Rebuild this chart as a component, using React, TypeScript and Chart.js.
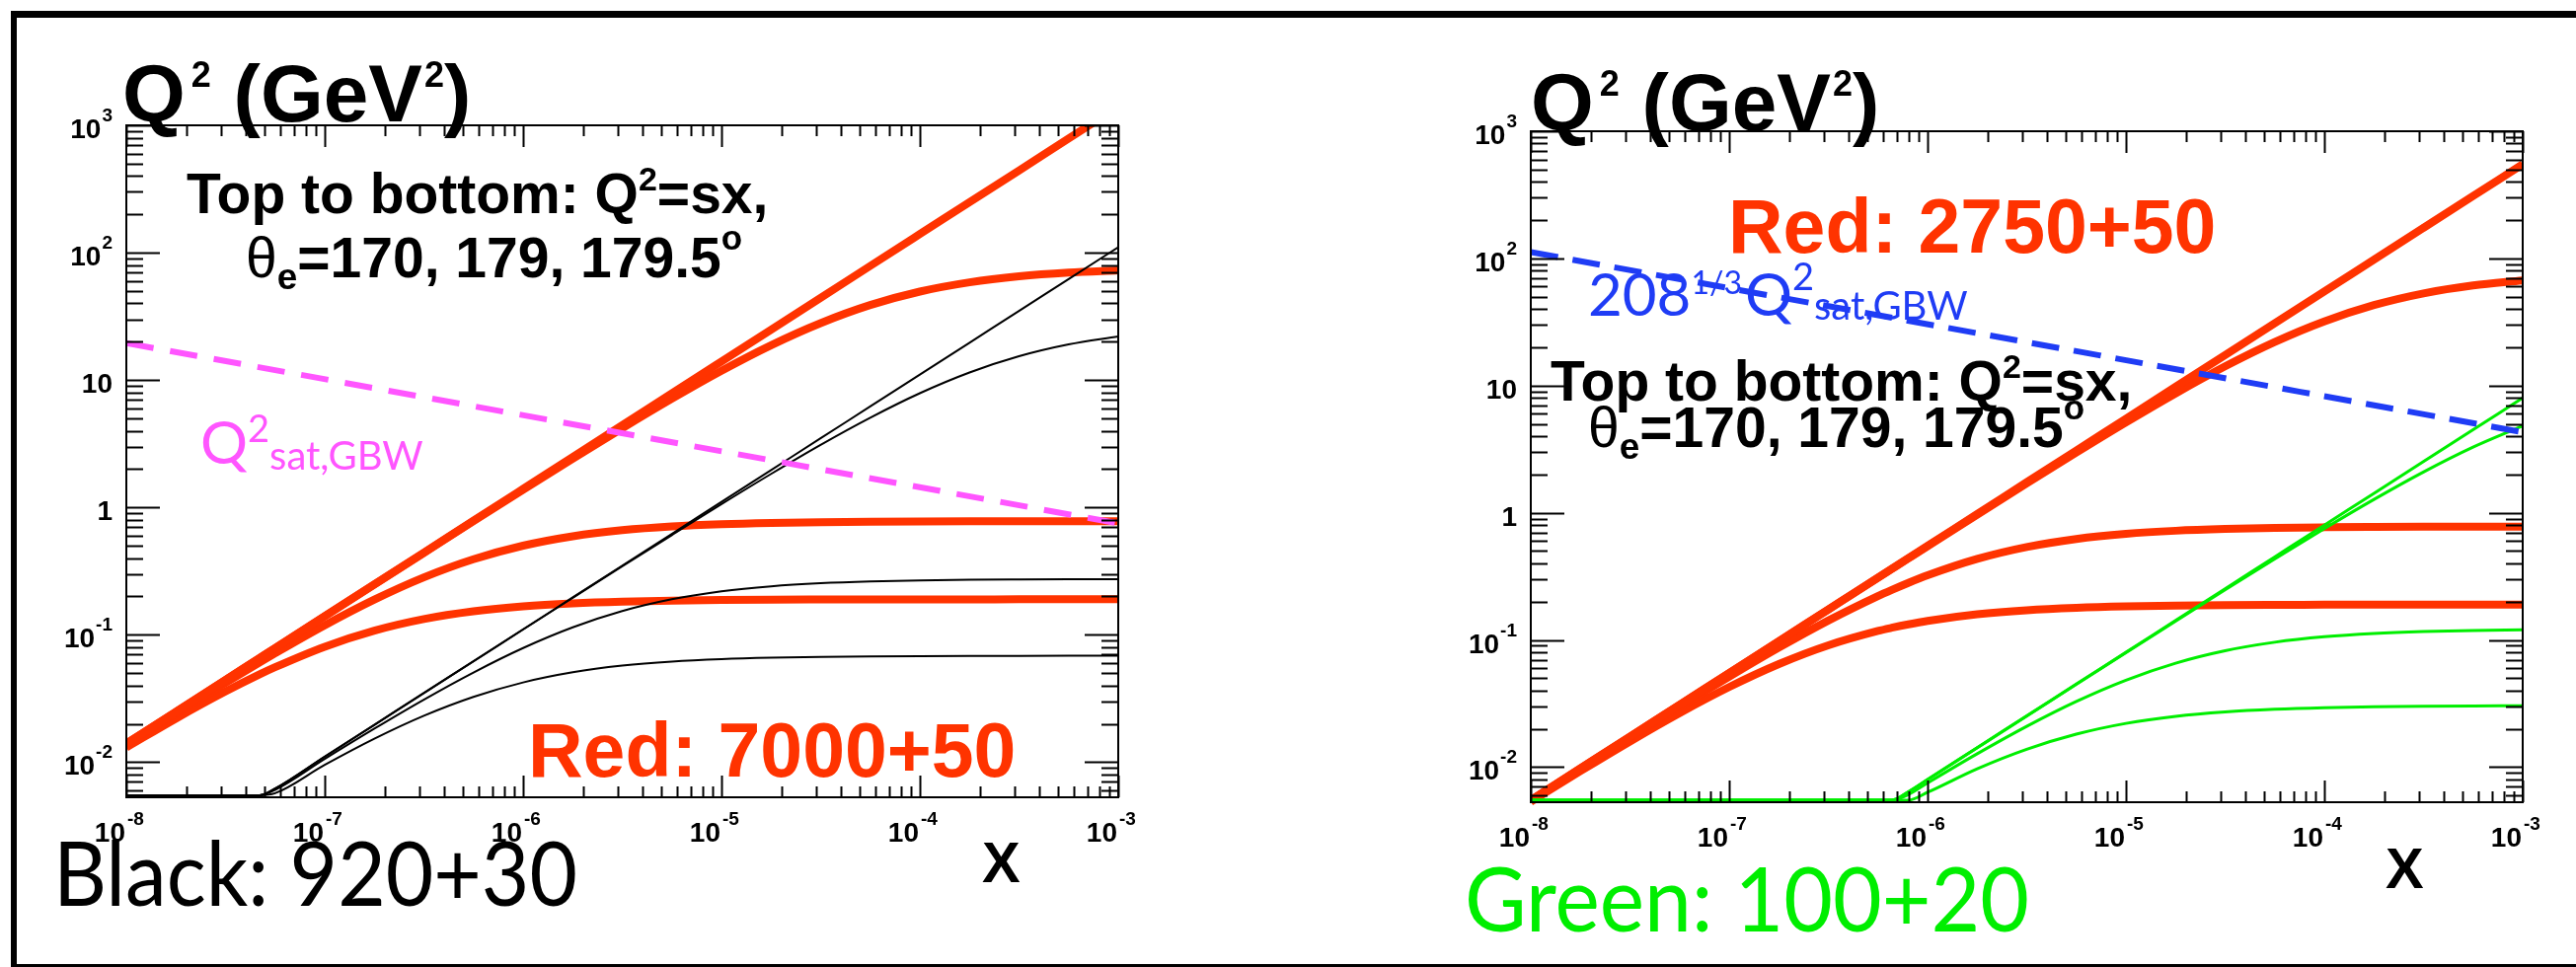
import React, { useEffect, useRef } from 'react';
import { Chart, registerables } from 'chart.js';
Chart.register(...registerables);

// ---------- axis ranges & tick labels ----------
const X_MIN = 1e-8;
const X_MAX = 1e-3;
const Y_MIN = 0.0053;
const Y_MAX = 1000;
const X_TICK_EXPONENTS = ['-8', '-7', '-6', '-5', '-4', '-3'];
const Y_TICK_VALUES = [0.01, 0.1, 1, 10, 100, 1000];
const Y_TICK_BASES = ['10', '10', '1', '10', '10', '10'];
const Y_TICK_EXPS = ['-2', '-1', '', '', '2', '3'];

// ---------- left panel data (Red: 7000+50, Black: 920+30) ----------
const X_LEFT = [1e-8, 1.78e-8, 3.16e-8, 4.7e-8, 5.62e-8, 1e-7, 1.78e-7, 3.16e-7, 5.62e-7, 1e-6, 1.78e-6, 3.16e-6, 5.62e-6, 1e-5, 1.78e-5, 3.16e-5, 5.62e-5, 1e-4, 1.78e-4, 3.16e-4, 5.62e-4, 1e-3];
const RED7000_SX = [0.014, 0.0249, 0.0442, 0.0658, 0.0787, 0.14, 0.249, 0.442, 0.787, 1.4, 2.49, 4.42, 7.87, 14, 24.9, 44.2, 78.7, 140, 249, 442, 787, 1400];
const RED7000_170 = [0.014, 0.0249, 0.0442, 0.0657, 0.0786, 0.1397, 0.248, 0.4395, 0.779, 1.375, 2.411, 4.18, 7.13, 11.83, 18.79, 28.0, 38.8, 49.5, 58.5, 65.2, 69.7, 72.5];
const RED7000_179 = [0.01375, 0.02413, 0.04183, 0.0607, 0.07147, 0.1187, 0.1888, 0.2822, 0.3917, 0.501, 0.594, 0.663, 0.7097, 0.739, 0.7564, 0.7665, 0.7724, 0.7757, 0.7776, 0.7787, 0.7792, 0.7796];
const RED7000_1795 = [0.01304, 0.02202, 0.03586, 0.0489, 0.05564, 0.0806, 0.1078, 0.1329, 0.153, 0.1673, 0.1765, 0.1822, 0.1855, 0.1875, 0.1886, 0.1892, 0.1895, 0.1897, 0.1898, 0.1899, 0.19, 0.19];
const BLACK_SX = [0.0055, 0.0055, 0.0055, 0.0055, 0.0062, 0.01104, 0.01965, 0.0349, 0.062, 0.1104, 0.1965, 0.349, 0.62, 1.104, 1.965, 3.49, 6.2, 11.04, 19.65, 34.9, 62.0, 110.4];
const BLACK_170 = [0.0055, 0.0055, 0.0055, 0.0055, 0.0062, 0.01104, 0.01964, 0.03486, 0.06186, 0.11, 0.1951, 0.3447, 0.6064, 1.061, 1.834, 3.097, 5.058, 7.878, 11.46, 15.38, 19.05, 22.02];
const BLACK_179 = [0.0055, 0.0055, 0.0055, 0.0055, 0.00606, 0.01061, 0.01834, 0.03096, 0.05056, 0.07869, 0.1144, 0.1535, 0.19, 0.2195, 0.2404, 0.254, 0.2624, 0.2673, 0.2702, 0.2718, 0.2728, 0.2733];
const BLACK_1795 = [0.0055, 0.0055, 0.0055, 0.0055, 0.0057, 0.009508, 0.01527, 0.02312, 0.03254, 0.04227, 0.05079, 0.05726, 0.06168, 0.06449, 0.06619, 0.06718, 0.06774, 0.06807, 0.06826, 0.06836, 0.06842, 0.06845];
const GBW_X = [1e-8, 1e-3];
const GBW_Q2 = [19.5, 0.75];

// ---------- right panel data (Red: 2750+50, Green: 100+20) ----------
const X_RIGHT = [1e-8, 1.78e-8, 3.16e-8, 5.62e-8, 1e-7, 1.78e-7, 3.16e-7, 5.62e-7, 6.6e-7, 8e-7, 1e-6, 1.78e-6, 3.16e-6, 5.62e-6, 1e-5, 1.78e-5, 3.16e-5, 5.62e-5, 1e-4, 1.78e-4, 3.16e-4, 5.62e-4, 1e-3];
const RED2750_SX = [0.0055, 0.00979, 0.01738, 0.03091, 0.055, 0.0979, 0.1738, 0.3091, 0.363, 0.44, 0.55, 0.979, 1.738, 3.091, 5.5, 9.79, 17.38, 30.91, 55, 97.9, 173.8, 309.1, 550];
const RED2750_170 = [0.0055, 0.00979, 0.01738, 0.0309, 0.05496, 0.0978, 0.1734, 0.3079, 0.3613, 0.4375, 0.5461, 0.9667, 1.6995, 2.971, 5.131, 8.677, 14.16, 22.0, 31.97, 42.95, 53.12, 61.33, 67.17];
const RED2750_179 = [0.005462, 0.009668, 0.017, 0.02973, 0.05138, 0.08698, 0.1421, 0.2214, 0.2477, 0.2813, 0.3226, 0.4341, 0.5384, 0.6229, 0.6832, 0.7225, 0.7465, 0.7609, 0.7691, 0.774, 0.7767, 0.7781, 0.7789];
const RED2750_1795 = [0.005346, 0.00931, 0.01592, 0.02659, 0.04266, 0.06461, 0.09077, 0.1177, 0.1247, 0.1327, 0.1412, 0.1591, 0.1713, 0.179, 0.1837, 0.1864, 0.188, 0.1888, 0.1893, 0.1896, 0.1898, 0.1899, 0.1899];
const GREEN_SX = [0.0055, 0.0055, 0.0055, 0.0055, 0.0055, 0.0055, 0.0055, 0.0055, 0.0055, 0.0064, 0.008, 0.01424, 0.02528, 0.04496, 0.08, 0.1424, 0.2528, 0.4496, 0.8, 1.424, 2.528, 4.496, 8.0];
const GREEN_170 = [0.0055, 0.0055, 0.0055, 0.0055, 0.0055, 0.0055, 0.0055, 0.0055, 0.0055, 0.0064, 0.00799, 0.01422, 0.02523, 0.0448, 0.07948, 0.1408, 0.2477, 0.4337, 0.7508, 1.275, 2.094, 3.285, 4.831];
const GREEN_179 = [0.0055, 0.0055, 0.0055, 0.0055, 0.0055, 0.0055, 0.0055, 0.0055, 0.0055, 0.00608, 0.007508, 0.01275, 0.02094, 0.03286, 0.04832, 0.06571, 0.08228, 0.09596, 0.1059, 0.1124, 0.1164, 0.1188, 0.1202];
const GREEN_1795 = [0.0055, 0.0055, 0.0055, 0.0055, 0.0055, 0.0055, 0.0055, 0.0055, 0.0055, 0.0055, 0.006337, 0.009708, 0.01382, 0.01817, 0.02208, 0.02512, 0.02721, 0.02856, 0.02938, 0.02986, 0.03013, 0.03029, 0.03038];
const PB_GBW_X = [1e-8, 1e-3];
const PB_GBW_Q2 = [112, 4.3];

// ---------- styles ----------
const RED = '#ff3300';
const MAGENTA = '#ff55ff';
const BLUE = '#1f3cf5';
const GREEN = '#00ee00';
const HELV = '"Liberation Sans", Arial, Helvetica, sans-serif';
const GILL = 'Lato, "Noto Sans", sans-serif';

type Seg = { t: string; size: number; bold?: boolean; fam?: string; dy?: number; dx?: number };
type Txt = { x: number; y: number; color: string; segs: Seg[]; maxWidth?: number };

const titleSegs = (): Seg[] => [
  { t: 'Q', size: 82, bold: true },
  { t: '2', size: 36, bold: true, dy: -35, dx: 6 },
  { t: ' (GeV', size: 82, bold: true },
  { t: '2', size: 36, bold: true, dy: -35, dx: 2 },
  { t: ')', size: 82, bold: true },
];
const topSegs = (): Seg[] => [
  { t: 'Top to bottom: Q', size: 57, bold: true },
  { t: '2', size: 34, bold: true, dy: -23 },
  { t: '=sx,', size: 57, bold: true },
];
const thetaSegs = (): Seg[] => [
  { t: 'θ', size: 57 },
  { t: 'e', size: 37, bold: true, dy: 12 },
  { t: '=170, 179, 179.5', size: 57, bold: true },
  { t: 'o', size: 35, bold: true, dy: -28 },
];

const LEFT_TEXTS: Txt[] = [
  { x: 124, y: 123, color: '#000', segs: titleSegs() },
  { x: 189, y: 216, color: '#000', segs: topSegs() },
  { x: 249, y: 281, color: '#000', segs: thetaSegs() },
  { x: 203, y: 470, color: MAGENTA, segs: [
    { t: 'Q', size: 60, fam: GILL },
    { t: '2', size: 38, fam: GILL, dy: -22 },
    { t: 'sat,GBW', size: 40, fam: GILL, dy: 6 },
  ] },
  { x: 535, y: 787, color: RED, segs: [{ t: 'Red: 7000+50', size: 77, bold: true }] },
  { x: 54, y: 918, color: '#000', segs: [{ t: 'Black: 920+30', size: 92, fam: GILL }], maxWidth: 531 },
  { x: 995, y: 894, color: '#000', segs: [{ t: 'X', size: 58, bold: true }] },
];
const RIGHT_TEXTS: Txt[] = [
  { x: 1551, y: 132, color: '#000', segs: titleSegs() },
  { x: 1751, y: 256, color: RED, segs: [{ t: 'Red: 2750+50', size: 77, bold: true }] },
  { x: 1609, y: 320, color: BLUE, segs: [
    { t: '208', size: 60, fam: GILL },
    { t: '1/3', size: 32, fam: GILL, dy: -22 },
    { t: 'Q', size: 60, fam: GILL, dx: 3 },
    { t: '2', size: 38, fam: GILL, dy: -26 },
    { t: 'sat,GBW', size: 40, fam: GILL, dy: 4 },
  ] },
  { x: 1571, y: 406, color: '#000', segs: topSegs() },
  { x: 1609, y: 453, color: '#000', segs: thetaSegs() },
  { x: 1484, y: 944, color: GREEN, segs: [{ t: 'Green: 100+20', size: 92, fam: GILL }], maxWidth: 572 },
  { x: 2417, y: 900, color: '#000', segs: [{ t: 'X', size: 58, bold: true }] },
];

function fontOf(s: Seg) {
  return `${s.bold ? 'bold ' : ''}${s.size}px ${s.fam || HELV}`;
}

function drawRich(ctx: CanvasRenderingContext2D, t: Txt, ox: number) {
  ctx.fillStyle = t.color;
  ctx.textBaseline = 'alphabetic';
  ctx.textAlign = 'left';
  let x = t.x - ox;
  for (const s of t.segs) {
    ctx.font = fontOf(s);
    x += s.dx || 0;
    const w = ctx.measureText(s.t).width;
    if (t.maxWidth && w > t.maxWidth) {
      ctx.fillText(s.t, x, t.y + (s.dy || 0), t.maxWidth);
      x += t.maxWidth;
    } else {
      ctx.fillText(s.t, x, t.y + (s.dy || 0));
      x += w;
    }
  }
}

const rootFrame = {
  id: 'rootFrame',
  afterDatasetsDraw(chart: any) {
    const { ctx, chartArea: a, scales } = chart;
    const xs = scales.x;
    const ys = scales.y;
    ctx.save();
    ctx.strokeStyle = '#000';
    ctx.lineWidth = 2;
    ctx.strokeRect(a.left, a.top, a.right - a.left, a.bottom - a.top);
    ctx.beginPath();
    for (let d = -8; d <= -3; d++) {
      for (let k = 1; k <= 9; k++) {
        const v = k * Math.pow(10, d);
        if (v < X_MIN * 0.999 || v > X_MAX * 1.001) continue;
        const px = Math.round(xs.getPixelForValue(v)) + 0.5;
        const len = k === 1 ? 22 : 11;
        ctx.moveTo(px, a.bottom); ctx.lineTo(px, a.bottom - len);
        ctx.moveTo(px, a.top); ctx.lineTo(px, a.top + len);
      }
    }
    for (let d = -3; d <= 3; d++) {
      for (let k = 1; k <= 9; k++) {
        const v = k * Math.pow(10, d);
        if (v < Y_MIN * 0.999 || v > Y_MAX * 1.001) continue;
        const py = Math.round(ys.getPixelForValue(v)) + 0.5;
        const len = k === 1 ? 34 : 17;
        ctx.moveTo(a.left, py); ctx.lineTo(a.left + len, py);
        ctx.moveTo(a.right, py); ctx.lineTo(a.right - len, py);
      }
    }
    ctx.stroke();

    // tick labels
    ctx.fillStyle = '#000';
    ctx.textBaseline = 'alphabetic';
    X_TICK_EXPONENTS.forEach((e) => {
      const px = xs.getPixelForValue(Math.pow(10, Number(e)));
      ctx.font = `bold 28px ${HELV}`;
      ctx.textAlign = 'right';
      ctx.fillText('10', px - 1, a.bottom + 45);
      ctx.font = `bold 19px ${HELV}`;
      ctx.textAlign = 'left';
      ctx.fillText(e, px + 1, a.bottom + 28);
    });
    Y_TICK_VALUES.forEach((v, i) => {
      const py = ys.getPixelForValue(v);
      const exp = Y_TICK_EXPS[i];
      let right = a.left - 14;
      if (exp) {
        ctx.font = `bold 19px ${HELV}`;
        ctx.textAlign = 'right';
        ctx.fillText(exp, right, py - 4);
        right -= ctx.measureText(exp).width + 1;
      }
      ctx.font = `bold 28px ${HELV}`;
      ctx.textAlign = 'right';
      ctx.fillText(Y_TICK_BASES[i], right, py + 13);
    });
    ctx.restore();
  },
  afterDraw(chart: any, _args: any, opts: any) {
    const ctx = chart.ctx;
    ctx.save();
    (opts.texts as Txt[]).forEach((t) => drawRich(ctx, t, opts.offsetX));
    ctx.restore();
  },
};

function series(xs: number[], ys: number[], color: string, width: number, order: number, dash?: number[]) {
  return {
    data: xs.map((x, i) => ({ x, y: ys[i] })),
    borderColor: color,
    borderWidth: width,
    borderDash: dash || [],
    pointRadius: 0,
    fill: false,
    cubicInterpolationMode: 'monotone',
    clip: { left: 0, top: 0, right: 0, bottom: 5 },
    order,
  };
}

function makeChart(canvas: HTMLCanvasElement, datasets: any[], padding: any, texts: Txt[], offsetX: number) {
  return new Chart(canvas, {
    type: 'line',
    data: { datasets },
    options: {
      animation: false,
      responsive: false,
      maintainAspectRatio: false,
      events: [],
      layout: { padding },
      scales: {
        x: { type: 'logarithmic', min: X_MIN, max: X_MAX, display: false },
        y: { type: 'logarithmic', min: Y_MIN, max: Y_MAX, display: false },
      },
      plugins: {
        legend: { display: false },
        tooltip: { enabled: false },
        rootFrame: { texts, offsetX },
      } as any,
    },
    plugins: [rootFrame],
  } as any);
}

export default function App() {
  const leftRef = useRef<HTMLCanvasElement>(null);
  const rightRef = useRef<HTMLCanvasElement>(null);

  useEffect(() => {
    const left = makeChart(
      leftRef.current!,
      [
        series(X_LEFT, RED7000_SX, RED, 8, 3),
        series(X_LEFT, RED7000_170, RED, 8, 3),
        series(X_LEFT, RED7000_179, RED, 8, 3),
        series(X_LEFT, RED7000_1795, RED, 8, 3),
        series(X_LEFT, BLACK_SX, '#000', 2, 2),
        series(X_LEFT, BLACK_170, '#000', 2, 2),
        series(X_LEFT, BLACK_179, '#000', 2, 2),
        series(X_LEFT, BLACK_1795, '#000', 2, 2),
        series(GBW_X, GBW_Q2, MAGENTA, 6, 1, [28, 17]),
      ],
      { left: 128, top: 127, right: 167, bottom: 172 },
      LEFT_TEXTS,
      0,
    );
    const right = makeChart(
      rightRef.current!,
      [
        series(X_RIGHT, RED2750_SX, RED, 8, 3),
        series(X_RIGHT, RED2750_170, RED, 8, 3),
        series(X_RIGHT, RED2750_179, RED, 8, 3),
        series(X_RIGHT, RED2750_1795, RED, 8, 3),
        series(X_RIGHT, GREEN_SX, GREEN, 3, 2),
        series(X_RIGHT, GREEN_170, GREEN, 3, 2),
        series(X_RIGHT, GREEN_179, GREEN, 3, 2),
        series(X_RIGHT, GREEN_1795, GREEN, 3, 2),
        series(PB_GBW_X, PB_GBW_Q2, BLUE, 6, 1, [28, 15]),
      ],
      { left: 251, top: 133, right: 54, bottom: 167 },
      RIGHT_TEXTS,
      1300,
    );
    return () => {
      left.destroy();
      right.destroy();
    };
  }, []);

  return (
    <div style={{ position: 'fixed', left: 0, top: 0, width: 2610, height: 980, background: '#fff', overflow: 'hidden' }}>
      <canvas ref={leftRef} width={1300} height={980} style={{ position: 'absolute', left: 0, top: 0, width: 1300, height: 980 }} />
      <canvas ref={rightRef} width={1310} height={980} style={{ position: 'absolute', left: 1300, top: 0, width: 1310, height: 980 }} />
      <div style={{ position: 'absolute', left: 11, top: 11, width: 2610, height: 969, boxSizing: 'border-box', borderTop: '7px solid #000', borderLeft: '6px solid #000', borderBottom: '3px solid #000', pointerEvents: 'none' }} />
    </div>
  );
}
